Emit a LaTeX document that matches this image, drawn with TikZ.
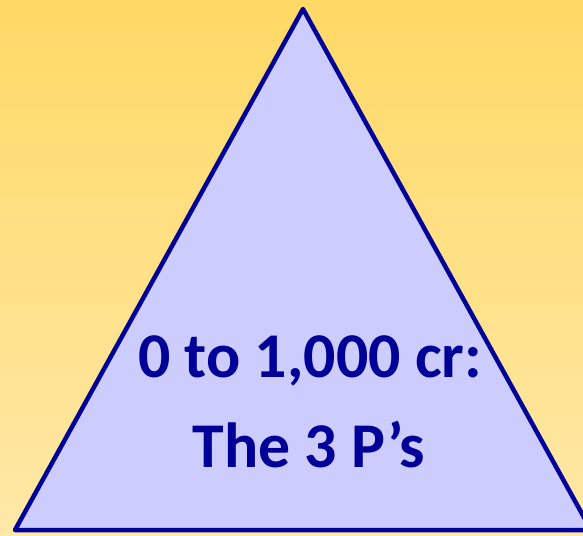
\documentclass[tikz,border=0pt]{standalone}
\usepackage{fontspec}
\setmainfont{Carlito}
\usetikzlibrary{positioning}
\definecolor{goldTop}{RGB}{255,217,102}
\definecolor{goldBot}{RGB}{255,232,168}
\definecolor{navyLine}{RGB}{0,0,153}
\definecolor{lilacFill}{RGB}{204,204,255}
\tikzset{
  pyrtext/.style={font=\bfseries\fontsize{64}{70}\selectfont,text=navyLine,anchor=base,inner sep=0pt}
}

\begin{document}
\begin{tikzpicture}[x=1bp,y=-1bp]
		\useasboundingbox (0,0) rectangle (583,536);
		\clip (0,0) rectangle (583,536);
		\shade[top color=goldTop,bottom color=goldBot] (0,0) rectangle (583,536);
		\coordinate (apex) at (303,9);
		\coordinate (baseL) at (15,530);
		\coordinate (baseR) at (591,530);
		\draw[navyLine,fill=lilacFill,line width=4.5bp,line join=round] (apex) -- (baseR) -- (baseL) -- cycle;
		\node[pyrtext] (range) at (310,377) {0 to 1,000 cr:};
		\node[pyrtext] (three) at (309,467) {The 3 P’s};
\end{tikzpicture}
\end{document}
